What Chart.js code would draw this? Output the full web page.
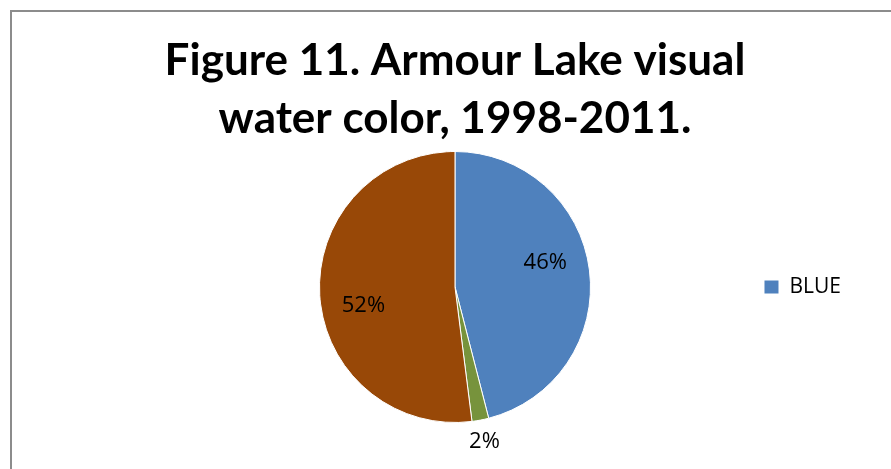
<!DOCTYPE html>
<html>
<head>
<meta charset="utf-8">
<script src="https://cdn.jsdelivr.net/npm/chart.js@4.4.1/dist/chart.umd.min.js"></script>
<style>
  html, body { margin: 0; padding: 0; background: #ffffff; }
  #wrap { position: relative; width: 891px; height: 469px; overflow: hidden; background: #ffffff; }
  #frame { position: absolute; left: 10px; top: 10px; width: 1000px; height: 600px;
           border-left: 2px solid #8c8c8c; border-top: 2px solid #8c8c8c; box-sizing: border-box; }
  #c { position: absolute; left: 0; top: 0; }
</style>
</head>
<body>
<div id="wrap">
  <div id="frame"></div>
  <canvas id="c" width="891" height="469"></canvas>
</div>
<script>
// ---- data ----
const titleLines = ['Figure 11. Armour Lake visual', 'water color, 1998-2011.'];
const categories = ['BLUE', 'GREEN', 'BROWN'];
const values = [46, 2, 52];
const sliceColors = ['#4F81BD', '#77933C', '#984807'];
const legendShown = ['BLUE'];

const labelPlugin = {
  id: 'sliceLabels',
  afterDatasetsDraw(chart) {
    const ctx = chart.ctx;
    const meta = chart.getDatasetMeta(0);
    const data = chart.data.datasets[0].data;
    const total = data.reduce((a, b) => a + b, 0);
    ctx.save();
    ctx.font = '22px "Open Sans"';
    ctx.fillStyle = '#000000';
    ctx.textAlign = 'center';
    ctx.textBaseline = 'middle';
    meta.data.forEach((arc, i) => {
      const p = arc.getProps(['x', 'y', 'startAngle', 'endAngle', 'outerRadius'], true);
      const frac = data[i] / total;
      let mid = (p.startAngle + p.endAngle) / 2;
      let d;
      if (frac < 0.05) {
        d = p.outerRadius * 1.16;
      } else {
        mid -= 8 * Math.PI / 180;
        d = p.outerRadius * 0.69;
      }
      const x = p.x + Math.cos(mid) * d;
      const y = p.y + Math.sin(mid) * d;
      ctx.fillText(Math.round(frac * 100) + '%', x, y);
    });
    ctx.restore();
  }
};

new Chart(document.getElementById('c'), {
  type: 'pie',
  data: {
    labels: categories,
    datasets: [{
      data: values,
      backgroundColor: sliceColors,
      borderColor: '#ffffff',
      borderWidth: 1
    }]
  },
  options: {
    responsive: false,
    animation: false,
    devicePixelRatio: 1,
    layout: { padding: { left: 156, right: 40, top: 0, bottom: 46 } },
    plugins: {
      title: {
        display: true,
        text: titleLines,
        fullSize: false,
        color: '#000000',
        font: { family: 'Lato', size: 44, weight: 'bold', lineHeight: 58 / 44 },
        padding: { top: 32, bottom: 3 }
      },
      legend: {
        display: true,
        position: 'right',
        fullSize: false,
        labels: {
          color: '#000000',
          font: { family: '"Open Sans"', size: 21 },
          boxWidth: 15,
          boxHeight: 14,
          padding: 10,
          filter: (item) => legendShown.includes(item.text)
        }
      },
      tooltip: { enabled: false }
    }
  },
  plugins: [labelPlugin]
});
</script>
</body>
</html>
